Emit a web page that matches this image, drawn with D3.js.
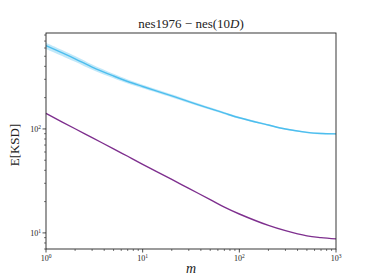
<!DOCTYPE html>
<html>
<head>
<meta charset="utf-8">
<script src="https://cdn.jsdelivr.net/npm/d3@7"></script>
<style>
  body { margin: 0; background: #fff; }
  text { font-family: "Liberation Serif", "DejaVu Serif", serif; fill: #222; }
</style>
</head>
<body>
<svg id="chart" width="374" height="280"></svg>
<script>
const mValues = [1, 2, 3, 5, 7, 10, 20, 30, 50, 70, 100, 200, 300, 500, 700, 1000];
const blueMean = [632, 473, 394, 323, 286, 256, 208, 183, 157, 142, 128, 109, 99.8, 92.7, 90.3, 89.6];
const blueBand = [0.07, 0.065, 0.06, 0.05, 0.045, 0.04, 0.035, 0.03, 0.027, 0.024, 0.022, 0.02, 0.018, 0.017, 0.017, 0.017];
const purpleMean = [141, 100.4, 82.5, 64.3, 54.6, 45.7, 32.7, 26.8, 20.9, 17.7, 15.2, 11.8, 10.5, 9.36, 9.0, 8.75];
const xTicks = [1, 10, 100, 1000];
const yTicks = [10, 100];

const margin = { top: 33, right: 38, bottom: 31, left: 46 };
const width = 374 - margin.left - margin.right;
const height = 280 - margin.top - margin.bottom;

const svg = d3.select("#chart");
const g = svg.append("g").attr("transform", `translate(${margin.left},${margin.top})`);

const x = d3.scaleLog().domain([1, 1000]).range([0, width]);
const y = d3.scaleLog().domain([7.0, 837]).range([height, 0]);

const blueData = mValues.map((m, i) => ({ m, v: blueMean[i], lo: blueMean[i] * (1 - blueBand[i]), hi: blueMean[i] * (1 + blueBand[i]) }));
const purpleData = mValues.map((m, i) => ({ m, v: purpleMean[i] }));

const curve = d3.curveCatmullRom.alpha(0.5);

g.append("path")
  .datum(blueData)
  .attr("fill", "#4DBEEE")
  .attr("opacity", 0.35)
  .attr("d", d3.area().curve(curve).x(d => x(d.m)).y0(d => y(d.lo)).y1(d => y(d.hi)));

g.append("path")
  .datum(blueData)
  .attr("fill", "none")
  .attr("stroke", "#4DBEEE")
  .attr("stroke-width", 1.4)
  .attr("d", d3.line().curve(curve).x(d => x(d.m)).y(d => y(d.v)));

g.append("path")
  .datum(purpleData)
  .attr("fill", "none")
  .attr("stroke", "#7E2F8E")
  .attr("stroke-width", 1.4)
  .attr("d", d3.line().curve(curve).x(d => x(d.m)).y(d => y(d.v)));

// minor ticks
const xMinor = [];
[1, 10, 100].forEach(b => { for (let k = 2; k <= 9; k++) xMinor.push(b * k); });
const yMinor = [];
[1, 10, 100].forEach(b => { for (let k = 2; k <= 9; k++) { const v = b * k; if (v >= 7 && v <= 837) yMinor.push(v); } });

const axisColor = "#222";
const xAxis = g.append("g").attr("transform", `translate(0,${height})`);
xAxis.selectAll(".minor").data(xMinor).join("line")
  .attr("x1", d => x(d)).attr("x2", d => x(d)).attr("y1", 0).attr("y2", 2)
  .attr("stroke", axisColor).attr("stroke-width", 0.6);
xAxis.selectAll(".major").data(xTicks).join("line")
  .attr("x1", d => x(d)).attr("x2", d => x(d)).attr("y1", 0).attr("y2", 3.5)
  .attr("stroke", axisColor).attr("stroke-width", 0.8);
const xl = xAxis.selectAll(".lbl").data(xTicks).join("text")
  .attr("x", d => x(d)).attr("y", 12)
  .attr("text-anchor", "middle").attr("font-size", 8);
xl.append("tspan").text("10");
xl.append("tspan").attr("dy", -3).attr("font-size", 5.5).text(d => Math.round(Math.log10(d)));

const yAxis = g.append("g");
yAxis.selectAll(".minor").data(yMinor).join("line")
  .attr("x1", 0).attr("x2", -2).attr("y1", d => y(d)).attr("y2", d => y(d))
  .attr("stroke", axisColor).attr("stroke-width", 0.6);
yAxis.selectAll(".major").data(yTicks).join("line")
  .attr("x1", 0).attr("x2", -3.5).attr("y1", d => y(d)).attr("y2", d => y(d))
  .attr("stroke", axisColor).attr("stroke-width", 0.8);
const yl = yAxis.selectAll(".lbl").data(yTicks).join("text")
  .attr("x", -5).attr("y", d => y(d) + 3)
  .attr("text-anchor", "end").attr("font-size", 8);
yl.append("tspan").text("10");
yl.append("tspan").attr("dy", -3).attr("font-size", 5.5).text(d => Math.round(Math.log10(d)));

// frame
g.append("rect")
  .attr("width", width).attr("height", height)
  .attr("fill", "none").attr("stroke", axisColor).attr("stroke-width", 0.9);

// title and labels
const title = svg.append("text")
  .attr("x", margin.left + width / 2).attr("y", 28)
  .attr("text-anchor", "middle").attr("font-size", 13);
title.append("tspan").text("nes1976 − nes(10");
title.append("tspan").attr("font-style", "italic").text("D");
title.append("tspan").text(")");

svg.append("text")
  .attr("transform", `translate(19,${margin.top + height / 2 + 4}) rotate(-90)`)
  .attr("text-anchor", "middle").attr("font-size", 13)
  .text("E[KSD]");

svg.append("text")
  .attr("x", margin.left + width / 2).attr("y", 273)
  .attr("text-anchor", "middle").attr("font-size", 14)
  .attr("font-style", "italic")
  .text("m");
</script>
</body>
</html>
